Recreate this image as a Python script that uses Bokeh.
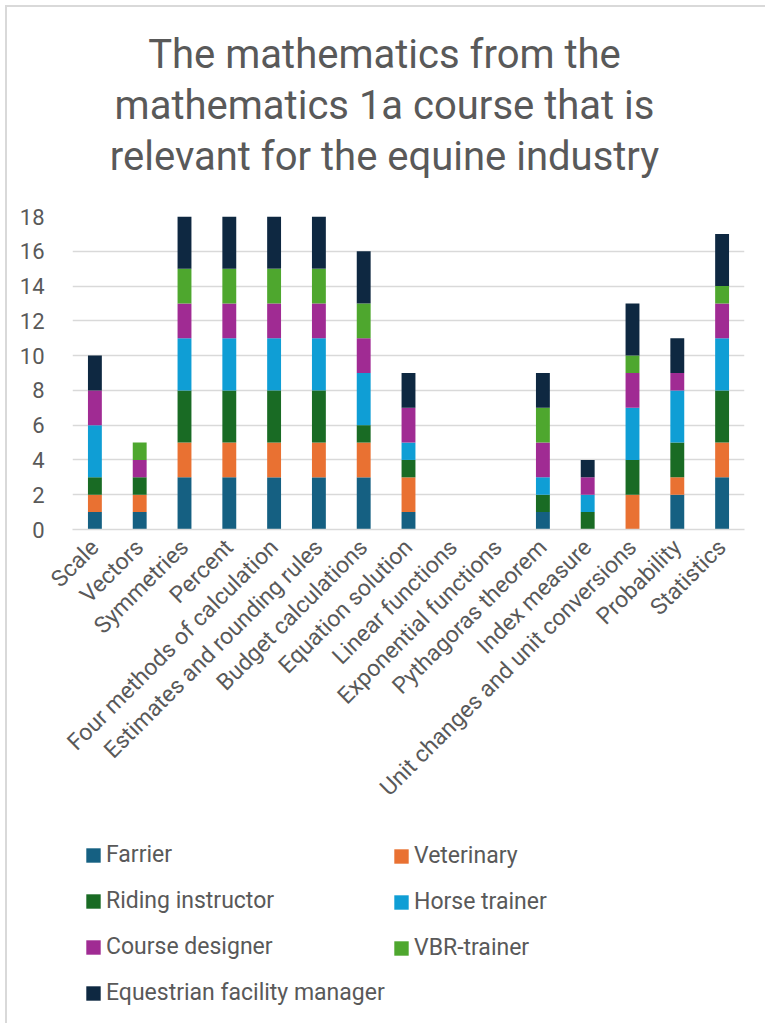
from bokeh.plotting import figure
from bokeh.layouts import column
from bokeh.models import (FactorRange, Range1d, FixedTicker, Legend, LegendItem, Label)
from bokeh.embed import file_html
from bokeh.resources import INLINE

# Topics from the mathematics 1a course
topics = [
    "Scale", "Vectors", "Symmetries", "Percent", "Four methods of calculation",
    "Estimates and rounding rules", "Budget calculations", "Equation solution",
    "Linear functions", "Exponential functions", "Pythagoras theorem",
    "Index measure", "Unit changes and unit conversions", "Probability", "Statistics",
]

# Number of times each topic was marked relevant, per profession
farrier           = [1, 1, 3, 3, 3, 3, 3, 1, 0, 0, 1, 0, 0, 2, 3]
veterinary        = [1, 1, 2, 2, 2, 2, 2, 2, 0, 0, 0, 0, 2, 1, 2]
riding_instructor = [1, 1, 3, 3, 3, 3, 1, 1, 0, 0, 1, 1, 2, 2, 3]
horse_trainer     = [3, 0, 3, 3, 3, 3, 3, 1, 0, 0, 1, 1, 3, 3, 3]
course_designer   = [2, 1, 2, 2, 2, 2, 2, 2, 0, 0, 2, 1, 2, 1, 2]
vbr_trainer       = [0, 1, 2, 2, 2, 2, 2, 0, 0, 0, 2, 0, 1, 0, 1]
facility_manager  = [2, 0, 3, 3, 3, 3, 3, 2, 0, 0, 2, 1, 3, 2, 3]

series_names = ["Farrier", "Veterinary", "Riding instructor", "Horse trainer",
                "Course designer", "VBR-trainer", "Equestrian facility manager"]
series_values = [farrier, veterinary, riding_instructor, horse_trainer,
                 course_designer, vbr_trainer, facility_manager]
series_colors = ["#156082", "#E97132", "#196B24", "#0F9ED5",
                 "#A02B93", "#4EA72E", "#0E2841"]

y_ticks = [0, 2, 4, 6, 8, 10, 12, 14, 16, 18]

title_lines = ["The mathematics from the",
               "mathematics 1a course that is",
               "relevant for the equine industry"]

TEXT = "#595959"
GRID = "#d9d9d9"
FONT = "Roboto"
W = 758
FRAME_W = 672          # plot-area width shared by all three stacked panels

keys = ["s%d" % i for i in range(len(series_names))]
data = {"topic": topics}
for k, vals in zip(keys, series_values):
    data[k] = vals

# ---- title strip ------------------------------------------------------------
TITLE_H = 193
tf = figure(
    width=W, height=TITLE_H,
    x_range=Range1d(0, FRAME_W), y_range=Range1d(0, TITLE_H),
    x_axis_location=None, y_axis_location=None,
    output_backend="svg", toolbar_location=None,
    min_border=0, outline_line_color=None,
    background_fill_color="white", border_fill_color="white",
)
tf.grid.grid_line_color = None
for line, baseline in zip(title_lines, [146, 95, 44]):
    tf.add_layout(Label(x=312, y=baseline, text=line, text_align="center",
                        text_baseline="alphabetic", text_font=FONT,
                        text_font_size="40px", text_color=TEXT))

# ---- main chart -------------------------------------------------------------
p = figure(
    x_range=FactorRange(*topics, range_padding=0),
    y_range=Range1d(0, 18),
    width=W, height=627,
    output_backend="svg", toolbar_location=None,
    min_border_left=65, min_border_right=21,
    min_border_top=16, min_border_bottom=298,
    background_fill_color="white", border_fill_color="white",
    outline_line_color=None,
)

renderers = p.vbar_stack(keys, x="topic", width=0.31, source=data,
                         color=series_colors, line_color=None)

p.yaxis.ticker = FixedTicker(ticks=y_ticks)
p.yaxis.axis_line_color = None
p.yaxis.major_tick_line_color = None
p.yaxis.minor_tick_line_color = None
p.yaxis.major_label_text_font = FONT
p.yaxis.major_label_text_font_size = "22px"
p.yaxis.major_label_text_color = TEXT
p.yaxis.major_label_standoff = 22

p.xaxis.axis_line_color = GRID
p.xaxis.axis_line_width = 1.5
p.xaxis.major_tick_line_color = None
p.xaxis.minor_tick_line_color = None
p.xaxis.major_label_orientation = 0.785398
p.xaxis.major_label_text_font = FONT
p.xaxis.major_label_text_font_size = "23px"
p.xaxis.major_label_text_color = TEXT
p.xaxis.major_label_standoff = 8

p.xgrid.grid_line_color = None
p.ygrid.grid_line_color = GRID
p.ygrid.grid_line_width = 1.5

# ---- legend strip -----------------------------------------------------------
# The same stacked series are drawn here against a y-range far above the data,
# so the bars stay out of view and only their legend swatches show.
lf = figure(
    width=W, height=196,
    x_range=FactorRange(*topics, range_padding=0), y_range=Range1d(100, 101),
    x_axis_location=None, y_axis_location=None,
    output_backend="svg", toolbar_location=None,
    min_border=0, outline_line_color=None,
    background_fill_color="white", border_fill_color="white",
)
lf.grid.grid_line_color = None
swatches = lf.vbar_stack(keys, x="topic", width=0.31, source=data,
                         color=series_colors, line_color=None)

def make_legend(idx, loc):
    return Legend(
        items=[LegendItem(label=series_names[i], renderers=[swatches[i]]) for i in idx],
        location=loc, orientation="vertical",
        label_text_font=FONT, label_text_font_size="23px", label_text_color=TEXT,
        glyph_width=18, glyph_height=18, label_height=26, label_standoff=4,
        spacing=19, padding=0, margin=0,
        border_line_color=None, background_fill_alpha=0,
    )

lf.add_layout(make_legend([0, 2, 4, 6], (12, 17)), "center")
lf.add_layout(make_legend([1, 3, 5], (320, 62)), "center")

layout = column(tf, p, lf, spacing=0)
layout.styles = {"margin-left": "5px", "margin-top": "5px",
                 "border-left": "2px solid #d9d9d9", "border-top": "2px solid #d9d9d9"}

html = file_html(layout, INLINE)
open("out.html", "w").write(html)
